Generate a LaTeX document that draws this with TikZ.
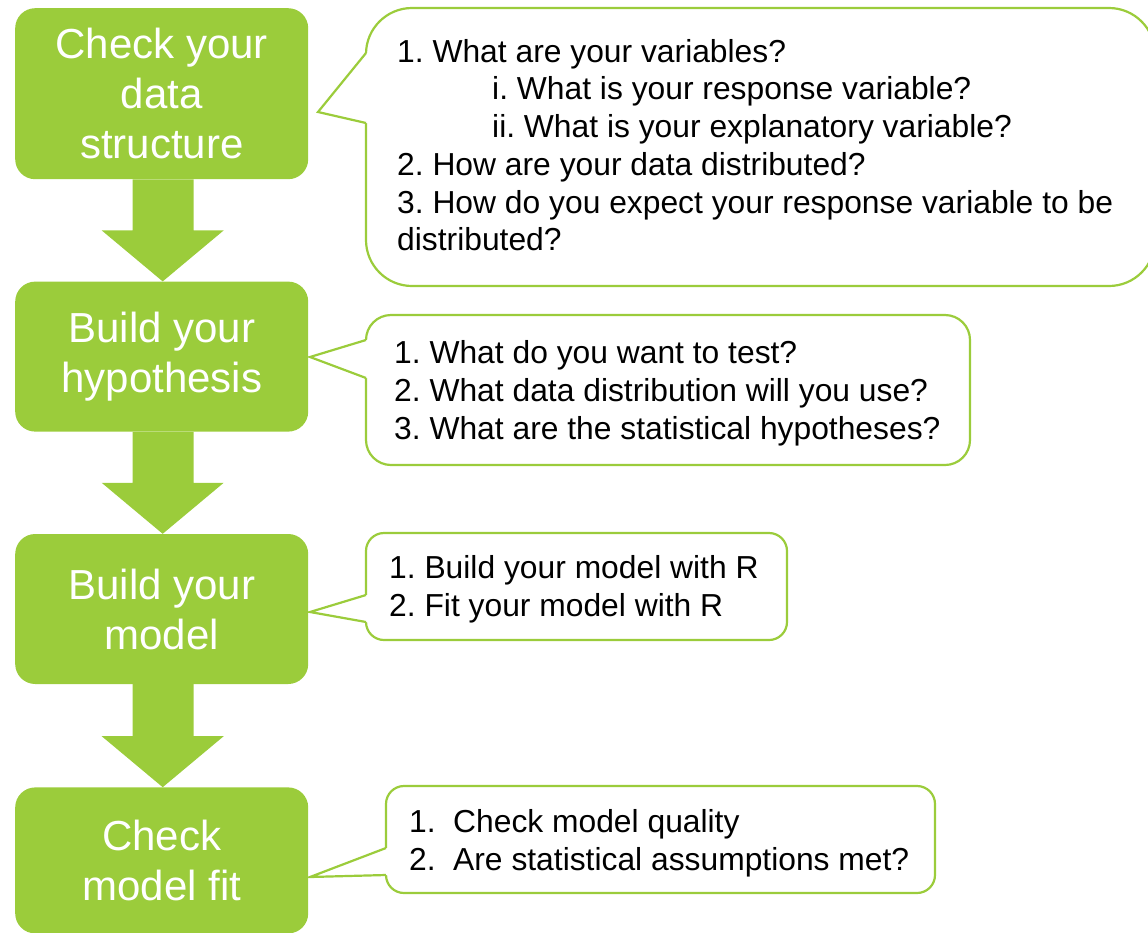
\documentclass[tikz,border=0pt]{standalone}
\usepackage{fontspec}
\setmainfont{Liberation Sans}
\usetikzlibrary{positioning}
\definecolor{stagegreen}{RGB}{155,204,59}
\frenchspacing

\tikzset{
  stage/.style={rectangle, rounded corners=20pt, fill=stagegreen, text=white, align=center,
    inner sep=0pt, minimum width=293pt, minimum height=150pt, font=\fontsize{42}{50}\selectfont},
  bubble/.style={rectangle, draw=stagegreen, line width=2.2pt, fill=white, inner sep=0pt, outer sep=0pt},
  bubbletext/.style={anchor=north west, align=left, inner sep=0pt, font=\fontsize{31.8}{38}\selectfont}
}

\begin{document}
\begin{tikzpicture}[x=1pt,y=1pt]
\useasboundingbox (0,0) rectangle (1148,-932);

% the four steps down the left
\node[stage, minimum height=171pt, anchor=north west] (check) at (15,-8) {Check your\\data\\structure};
\node[stage, below=102pt of check] (hypo) {Build your\\hypothesis};
\node[stage, below=102pt of hypo] (model) {Build your\\model};
\node[stage, below=103pt of model, minimum height=146pt] (fit) {Check\\model fit};

% block arrows between the steps
\foreach \a/\b in {check/hypo, hypo/model, model/fit}
  \fill[stagegreen] ([xshift=-29pt]\a.south) -- ([xshift=-29pt,yshift=51pt]\b.north)
    -- ([xshift=-60pt,yshift=51pt]\b.north) -- ([xshift=1pt]\b.north) -- ([xshift=62pt,yshift=51pt]\b.north)
    -- ([xshift=32pt,yshift=51pt]\b.north) -- ([xshift=32pt]\a.south) -- cycle;

% speech bubbles with the questions
\node[bubble, rounded corners=46pt, minimum width=789pt, minimum height=278pt, anchor=north west] (q1) at (366,-8) {};
\node[bubble, rounded corners=25pt, minimum width=604pt, minimum height=150pt, anchor=north west] (q2) at (366,-315) {};
\node[bubble, rounded corners=18pt, minimum width=421pt, minimum height=107pt, anchor=north west] (q3) at (366,-533) {};
\node[bubble, rounded corners=18pt, minimum width=549pt, minimum height=107pt, anchor=north west] (q4) at (386,-786) {};

\coordinate (t1) at (318,-112);
\coordinate (t2) at (310,-357);
\coordinate (t3) at (310,-612);
\coordinate (t4) at (310,-877);

% pointers of the bubbles
\foreach \q/\t/\u/\v in {q1/t1/45/115, q2/t2/25/63, q3/t3/62/89, q4/t4/62/89} {
  \fill[white] ([xshift=4pt,yshift=-\u pt]\q.north west) -- ([yshift=-\u pt]\q.north west) -- (\t)
    -- ([yshift=-\v pt]\q.north west) -- ([xshift=4pt,yshift=-\v pt]\q.north west) -- cycle;
  \draw[stagegreen, line width=2.2pt] ([yshift=-\u pt]\q.north west) -- (\t) -- ([yshift=-\v pt]\q.north west);
}

\node[bubbletext, font=\fontsize{31.8}{37.7}\selectfont] (q1text) at (397,-39) {1. What are your variables?\\
  \hspace*{95pt}i. What is your response variable?\\
  \hspace*{95pt}ii. What is your explanatory variable?\\
  2. How are your data distributed?\\
  3. How do you expect your response variable to be\\
  distributed?};
\node[bubbletext] (q2text) at (394,-340) {1. What do you want to test?\\
  2. What data distribution will you use?\\
  3. What are the statistical hypotheses?};
\node[bubbletext] (q3text) at (389,-555) {1. Build your model with R\\
  2. Fit your model with R};
\node[bubbletext] (q4text) at (409,-809) {\makebox[44pt][l]{1.}Check model quality\\
  \makebox[44pt][l]{2.}Are statistical assumptions met?};
\end{tikzpicture}
\end{document}
